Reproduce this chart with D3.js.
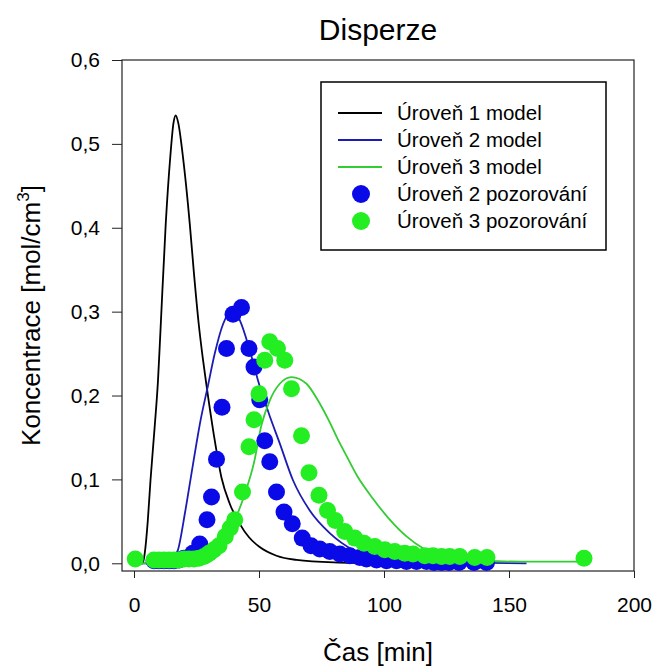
<!DOCTYPE html>
<html>
<head>
<meta charset="utf-8">
<script src="https://cdn.jsdelivr.net/npm/d3@7"></script>
<style>
  body { margin: 0; background: #fff; }
  text { font-family: 'Liberation Sans', Arial, sans-serif; fill: #000; }
</style>
</head>
<body>
<div id="chart"></div>
<script>
// model curves: [time min, concentration]
const model1 = [[0, 0], [3.5, 0], [4.3, 0.012], [5.5, 0.05], [6.6, 0.099], [8.2, 0.16], [9.6, 0.218],
  [10.6, 0.278], [12.7, 0.405], [14.5, 0.484], [15.8, 0.525], [16.7, 0.534], [17.7, 0.525], [19.6, 0.484],
  [22.3, 0.405], [24, 0.345], [25.9, 0.285], [27.5, 0.245], [29, 0.212], [32, 0.152], [35, 0.102],
  [38.3, 0.071], [42.3, 0.047], [46, 0.031], [50, 0.02], [57, 0.009], [65, 0.004], [80, 0.001], [100, 0]]

const model2 = [[0, 0], [13, 0], [15, 0.003], [17.6, 0.016], [20.5, 0.062], [23.6, 0.118], [26.6, 0.17],
  [29.6, 0.212], [32.3, 0.25], [35.6, 0.285], [39.5, 0.302], [42.3, 0.29], [46.3, 0.254], [49.6, 0.218],
  [54, 0.178], [58.3, 0.143], [63.6, 0.099], [70.3, 0.063], [78.3, 0.036], [87.6, 0.016], [94.3, 0.008],
  [105, 0.003], [120, 0.001], [157, 0]]

const model3 = [[0, 0], [28, 0], [33, 0.008], [37, 0.024], [40, 0.048], [44, 0.08], [48, 0.12],
  [51, 0.165], [54.3, 0.194], [58.3, 0.214], [63, 0.222], [69, 0.214], [73.6, 0.194], [78.3, 0.168],
  [81.5, 0.148], [85, 0.128], [89.3, 0.104], [95.6, 0.077], [102.3, 0.052], [109, 0.032], [115.6, 0.018],
  [122.3, 0.01], [130, 0.005], [140, 0.003], [155, 0.002], [180, 0.002]]

// observations
const obs2 = [[8, 0.003], [10, 0.003], [12, 0.003], [14, 0.003], [16, 0.003], [18, 0.004], [20, 0.006],
  [23.5, 0.012], [26.3, 0.023], [29.2, 0.052], [31, 0.079], [33, 0.124], [35.2, 0.186], [37, 0.256],
  [39.6, 0.297], [43, 0.305], [46, 0.256], [48, 0.234], [50.3, 0.195], [52.3, 0.146], [54.3, 0.121],
  [57, 0.085], [60, 0.061], [63.3, 0.047], [67.3, 0.03], [70.8, 0.021], [74.3, 0.017], [78.3, 0.014],
  [82.3, 0.011], [86.3, 0.009], [90.3, 0.007], [93, 0.005], [97, 0.004], [101, 0.003], [105, 0.003],
  [109, 0.002], [113, 0.002], [117, 0.002], [120, 0.001], [123, 0.001], [126, 0.001], [130, 0.001],
  [136, 0.001], [141, 0.001]]

const obs3 = [[0.5, 0.005], [8, 0.004], [10, 0.004], [12, 0.004], [14, 0.004], [16, 0.004], [18, 0.004],
  [20, 0.005], [22, 0.005], [24, 0.005], [26, 0.006], [28, 0.008], [30, 0.012], [32, 0.016], [34, 0.021],
  [36.5, 0.032], [38.5, 0.042], [40.3, 0.052], [43.4, 0.085], [46, 0.139], [48, 0.171], [50, 0.202],
  [52.3, 0.242], [54.3, 0.264], [57.4, 0.256], [60.3, 0.242], [63, 0.208], [67, 0.152], [70, 0.108],
  [74, 0.081], [77.4, 0.063], [80.5, 0.051], [84.3, 0.038], [88.3, 0.03], [92, 0.024], [96.3, 0.02],
  [100.3, 0.016], [104.3, 0.014], [108.3, 0.012], [111.6, 0.011], [116.3, 0.009], [119.6, 0.009],
  [123, 0.008], [126.3, 0.008], [130.3, 0.008], [136.3, 0.007], [141.2, 0.007], [180, 0.006]]

const xTicks = [0, 50, 100, 150, 200]
const yTicks = [0, 0.1, 0.2, 0.3, 0.4, 0.5, 0.6]

const legendItems = [
  { label: 'Úroveň 1 model', type: 'line', color: '#000000' },
  { label: 'Úroveň 2 model', type: 'line', color: '#1c1cb4' },
  { label: 'Úroveň 3 model', type: 'line', color: '#33cc33' },
  { label: 'Úroveň 2 pozorování', type: 'dot', color: '#0a0ae8' },
  { label: 'Úroveň 3 pozorování', type: 'dot', color: '#22ee22' }
]

const width = 658
const height = 672

const svg = d3
  .select('#chart')
  .append('svg')
  .attr('width', width)
  .attr('height', height)

const frame = { left: 122, right: 634, top: 60, bottom: 571 }

const xScale = d3.scaleLinear().domain([-4.8, 200]).range([frame.left, frame.right])
const yScale = d3.scaleLinear().domain([-0.0092, 0.6]).range([frame.bottom, frame.top])

const comma = d => d3.format('.1f')(d).replace('.', ',')

// axes
svg
  .append('g')
  .attr('transform', `translate(0,${frame.bottom})`)
  .call(d3.axisBottom(xScale).tickValues(xTicks).tickSize(7).tickPadding(19).tickSizeOuter(0))
svg
  .append('g')
  .attr('transform', `translate(${frame.left},0)`)
  .call(d3.axisLeft(yScale).tickValues(yTicks).tickFormat(comma).tickSize(10).tickPadding(12).tickSizeOuter(0))

svg.selectAll('.domain').remove()
svg.selectAll('.tick line').attr('stroke', '#222')
svg.selectAll('.tick text').attr('font-size', 21).attr('fill', '#000')
  .attr('font-family', "'Liberation Sans', Arial, sans-serif")

// frame
svg
  .append('rect')
  .attr('x', frame.left)
  .attr('y', frame.top)
  .attr('width', frame.right - frame.left)
  .attr('height', frame.bottom - frame.top)
  .attr('fill', 'none')
  .attr('stroke', '#222')
  .attr('stroke-width', 1.2)

svg.append('clipPath').attr('id', 'clip')
  .append('rect')
  .attr('x', frame.left)
  .attr('y', frame.top)
  .attr('width', frame.right - frame.left)
  .attr('height', frame.bottom - frame.top)

const plot = svg.append('g').attr('clip-path', 'url(#clip)')

const line = d3
  .line()
  .x(d => xScale(d[0]))
  .y(d => yScale(d[1]))
  .curve(d3.curveMonotoneX)

const models = [model1, model2, model3]
models.forEach((m, i) => {
  plot
    .append('path')
    .datum(m)
    .attr('d', line)
    .attr('fill', 'none')
    .attr('stroke', legendItems[i].color)
    .attr('stroke-width', 1.8)
})

const observations = [obs2, obs3]
observations.forEach((o, i) => {
  plot
    .append('g')
    .selectAll('circle')
    .data(o)
    .enter()
    .append('circle')
    .attr('cx', d => xScale(d[0]))
    .attr('cy', d => yScale(d[1]))
    .attr('r', 8.5)
    .attr('fill', legendItems[i + 3].color)
})

// titles
svg
  .append('text')
  .attr('x', (frame.left + frame.right) / 2)
  .attr('y', 40)
  .attr('text-anchor', 'middle')
  .attr('font-size', 30)
  .text('Disperze')

svg
  .append('text')
  .attr('x', (frame.left + frame.right) / 2)
  .attr('y', 661)
  .attr('text-anchor', 'middle')
  .attr('font-size', 26)
  .text('Čas [min]')

const yLabel = svg
  .append('text')
  .attr('transform', `translate(40,${(frame.top + frame.bottom) / 2}) rotate(-90)`)
  .attr('text-anchor', 'middle')
  .attr('font-size', 26)
yLabel.append('tspan').text('Koncentrace [mol/cm')
yLabel.append('tspan').attr('font-size', 17).attr('dy', -11).text('3')
yLabel.append('tspan').attr('dy', 11).text(']')

// legend
const legend = svg.append('g')
legend
  .append('rect')
  .attr('x', 321)
  .attr('y', 82)
  .attr('width', 285)
  .attr('height', 168)
  .attr('fill', '#fff')
  .attr('stroke', '#000')
  .attr('stroke-width', 1.5)

const legendScale = d3
  .scalePoint()
  .domain(legendItems.map(d => d.label))
  .range([113, 221])

legend
  .selectAll('g')
  .data(legendItems)
  .enter()
  .append('g')
  .attr('transform', d => `translate(0,${legendScale(d.label)})`)
  .each(function(d) {
    const group = d3.select(this)
    if (d.type === 'line') {
      group
        .append('line')
        .attr('x1', 338)
        .attr('x2', 382)
        .attr('stroke', d.color)
        .attr('stroke-width', 1.8)
    } else {
      group
        .append('circle')
        .attr('cx', 361)
        .attr('r', 9)
        .attr('fill', d.color)
    }
    group
      .append('text')
      .text(d.label)
      .attr('x', 397)
      .attr('dy', '0.35em')
      .attr('font-size', 20.5)
  })
</script>
</body>
</html>
